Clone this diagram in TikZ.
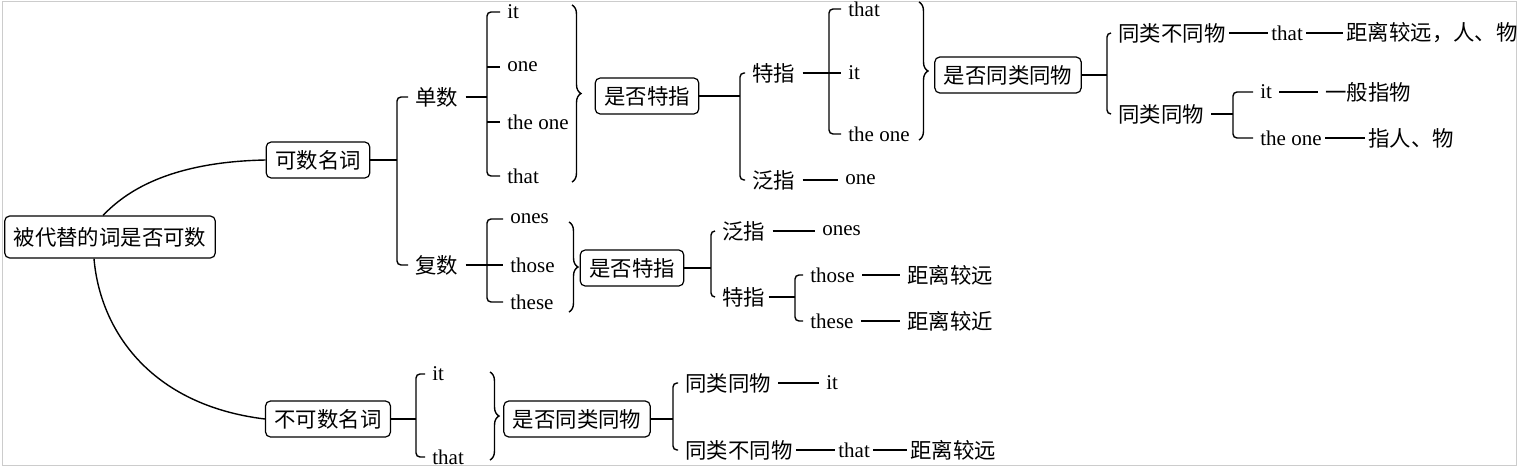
\documentclass[tikz,border=0pt]{standalone}
\usepackage{fontspec}
\setmainfont{Liberation Serif}
\newfontfamily\cjk{Noto Sans CJK SC}
\usetikzlibrary{decorations.pathreplacing}

\newcommand\cnsize{\cjk\fontsize{10.7}{12}\selectfont}
\newcommand\ensize{\fontsize{10.5}{12}\selectfont}

\begin{document}
\begin{tikzpicture}[
  x=0.5pt, y=-0.5pt,
  link/.style={line width=0.7pt},
  brk/.style={link, rounded corners=2pt, shorten <=2pt, shorten >=2pt},
  twig/.style={link, shorten >=2pt},
  stem/.style={link, shorten <=2pt},
  tie/.style={link, shorten <=2pt, shorten >=2pt},
  chain/.style={link},
  topic/.style={draw, line width=0.6pt, rounded corners=2.5pt, font=\cnsize, inner xsep=4.5pt, minimum height=18pt},
  cn/.style={font=\cnsize, inner sep=1.5pt, anchor=west},
  en/.style={font=\ensize, inner sep=1.5pt, anchor=west},
  curly/.style={line width=0.7pt, decorate, decoration={brace, amplitude=4.5pt}}
]
\useasboundingbox (0,0) rectangle (1523,467);
\draw[gray!40, line width=0.5pt] (2,1) rectangle (1516,465);

% root and the two kinds of nouns
\node[topic, minimum height=21pt] (root) at (110,237) {被代替的词是否可数};
\node[topic] (countable) at (318,160) {可数名词};
\node[topic] (uncountable) at (328,419) {不可数名词};
\draw[link] ([xshift=-3.5pt]root.north) .. controls (120,198) and (160,162) .. (countable.west);
\draw[link] ([xshift=-8pt]root.south) .. controls (100,330) and (150,405) .. (uncountable.west);

% countable: singular / plural
\coordinate (kb) at (397,160);
\node[cn] (sg) at (412,97) {单数};
\node[cn] (pl) at (412,265) {复数};
\draw[link] (countable.east) -- (kb);
\draw[brk] (sg.west) -| (kb) |- (pl.west);

% singular words
\coordinate (sb) at (487,97);
\node[en] (it1) at (504,12) {it};
\node[en] (one1) at (504,67) {one};
\node[en] (theone1) at (504,122) {the one};
\node[en] (that1) at (504,176) {that};
\draw[stem] (sg.east) -- (sb);
\draw[brk] (it1.west) -| (sb) |- (that1.west);
\draw[twig] (sb |- one1.west) -- (one1.west);
\draw[twig] (sb |- theone1.west) -- (theone1.west);
\draw[curly] (572,5) -- (572,182);
\node[topic] (sgq) at (647,96) {是否特指};

\coordinate (qb) at (740,96);
\node[cn] (sgspec) at (749,73) {特指};
\node[cn] (sggen) at (749,180) {泛指};
\draw[link] (sgq.east) -- (qb);
\draw[brk] (sgspec.west) -| (qb) |- (sggen.west);
\node[en] (one2) at (842,180) {one};
\draw[tie] (sggen.east) -- (one2.west);

% specific: that / it / the one
\coordinate (tb) at (829,73);
\node[en] (that2) at (845,9) {that};
\node[en] (it2) at (845,73) {it};
\node[en] (theone2) at (845,134) {the one};
\draw[tie] (sgspec.east) -- (it2.west);
\draw[brk] (that2.west) -| (tb) |- (theone2.west);
\draw[curly] (919,2) -- (919,140);
\node[topic] (sgsame) at (1008,75) {是否同类同物};

\coordinate (sb2) at (1107,75);
\node[cn] (sgdiff) at (1115,33) {同类不同物};
\node[cn] (sgsame2) at (1115,114) {同类同物};
\draw[link] (sgsame.east) -- (sb2);
\draw[brk] (sgdiff.west) -| (sb2) |- (sgsame2.west);
\node[en] (that3) at (1268,33) {that};
\node[cn] (far1) at (1343,33) {距离较远，人、物};
\draw[chain] (sgdiff.east) -- (that3.west);
\draw[chain] (that3.east) -- (far1.west);

\coordinate (cb) at (1233,114);
\node[en] (it3) at (1257,92) {it};
\node[en] (theone3) at (1257,138) {the one};
\draw[stem] (sgsame2.east) -- (cb);
\draw[brk] (it3.west) -| (cb) |- (theone3.west);
\node[cn] (thing) at (1322,92) {一般指物};
\node[cn] (person) at (1365,138) {指人、物};
\draw[tie] (it3.east) -- (thing.west);
\draw[chain] (theone3.east) -- (person.west);

% plural words
\coordinate (pb) at (487,265);
\node[en] (ones1) at (507,219) {ones};
\node[en] (those1) at (507,265) {those};
\node[en] (these1) at (507,302) {these};
\draw[tie] (pl.east) -- (those1.west);
\draw[brk] (ones1.west) -| (pb) |- (these1.west);
\draw[curly] (569,222) -- (569,312);
\node[topic] (plq) at (632,268) {是否特指};

\coordinate (qb2) at (711,268);
\node[cn] (plgen) at (719,231) {泛指};
\node[cn] (plspec) at (719,297) {特指};
\draw[link] (plq.east) -- (qb2);
\draw[brk] (plgen.west) -| (qb2) |- (plspec.west);
\node[en] (ones2) at (819,231) {ones};
\draw[tie] (plgen.east) -- (ones2.west);

\coordinate (sb3) at (795,297);
\node[en] (those2) at (807,275) {those};
\node[en] (these2) at (807,321) {these};
\draw[link] (plspec.east) -- (sb3);
\draw[brk] (those2.west) -| (sb3) |- (these2.west);
\node[cn] (far2) at (904,275) {距离较远};
\node[cn] (near2) at (904,321) {距离较近};
\draw[tie] (those2.east) -- (far2.west);
\draw[tie] (these2.east) -- (near2.west);

% uncountable
\coordinate (ub) at (416,419);
\node[en] (it4) at (429,374) {it};
\node[en] (that4) at (429,457) {that};
\draw[link] (uncountable.east) -- (ub);
\draw[brk] (it4.west) -| (ub) |- (that4.west);
\draw[curly] (490,372) -- (490,460);
\node[topic] (unq) at (577,419) {是否同类同物};

\coordinate (ub2) at (673,419);
\node[cn] (unsame) at (682,383) {同类同物};
\node[cn] (undiff) at (682,450) {同类不同物};
\draw[link] (unq.east) -- (ub2);
\draw[brk] (unsame.west) -| (ub2) |- (undiff.west);
\node[en] (it5) at (823,383) {it};
\draw[tie] (unsame.east) -- (it5.west);
\node[en] (that5) at (835,450) {that};
\node[cn] (far3) at (907,450) {距离较远};
\draw[chain] (undiff.east) -- (that5.west);
\draw[chain] (that5.east) -- (far3.west);
\end{tikzpicture}
\end{document}
